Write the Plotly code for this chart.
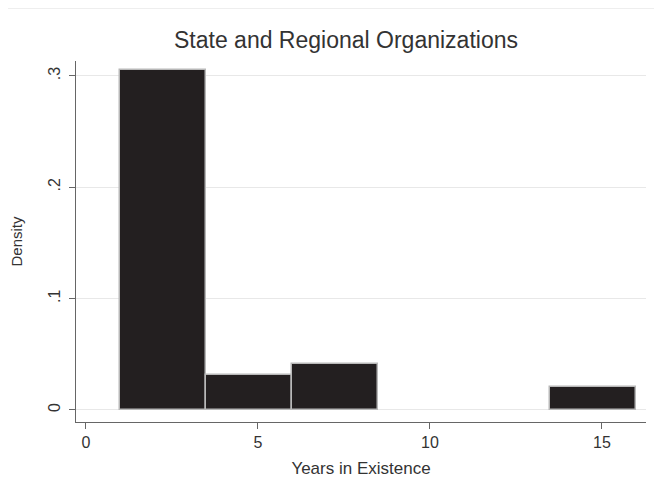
import plotly.graph_objects as go

# Data (histogram bins, width 2.5)
bin_start = [1.0, 3.5, 6.0, 13.5]
bin_width = 2.5
density = [0.305, 0.031, 0.041, 0.021]

y_tickvals = [0, 0.1, 0.2, 0.3]
y_ticktext = ["0", ".1", ".2", ".3"]
x_tickvals = [0, 5, 10, 15]
x_ticktext = ["0", "5", "10", "15"]

centers = [s + bin_width / 2 for s in bin_start]

fig = go.Figure()
fig.add_trace(go.Bar(
    x=centers, y=density, width=[bin_width] * len(centers),
    marker=dict(color="#231f20", line=dict(color="#b8b8b8", width=1.5)),
    hoverinfo="skip",
))

# page body has an 8px default margin, so the figure is 8px smaller
W, H = 654, 483
font_family = "Liberation Sans, Arial, sans-serif"
fig.update_layout(
    width=W, height=H,
    margin=dict(l=68, r=16, t=53, b=69),
    paper_bgcolor="white", plot_bgcolor="white",
    showlegend=False,
    font=dict(family=font_family, color="#333333", size=15),
    title=dict(text="State and Regional Organizations", x=338 / W, xref="container",
               xanchor="center", y=1 - 32 / H, yref="container", yanchor="middle",
               font=dict(size=23, color="#333333")),
    bargap=0,
    xaxis=dict(range=[-0.29, 16.28], tickvals=x_tickvals, ticktext=x_ticktext,
               automargin=False,
               showgrid=False, zeroline=False, showline=True, linecolor="#666666", linewidth=1,
               ticks="outside", ticklen=6, tickcolor="#666666", tickfont=dict(size=16),
               title=dict(text="Years in Existence", font=dict(size=17), standoff=11)),
    yaxis=dict(range=[-0.0108, 0.3134], tickvals=y_tickvals, ticktext=y_ticktext,
               automargin=False,
               tickangle=-90, showgrid=True, gridcolor="#e8e8e8", gridwidth=1,
               zeroline=False, showline=True, linecolor="#666666", linewidth=1,
               ticks="outside", ticklen=6, tickcolor="#666666", tickfont=dict(size=16),
               ticklabelstandoff=3,
               title=dict(text="Density", font=dict(size=15), standoff=20)),
    shapes=[dict(type="line", xref="paper", yref="paper", x0=-0.2, x1=1.1,
                 y0=(H - 69 - 0.5) / (H - 53 - 69), y1=(H - 69 - 0.5) / (H - 53 - 69),
                 line=dict(color="#eeeeee", width=1))],
)

fig.write_html("out.html")
